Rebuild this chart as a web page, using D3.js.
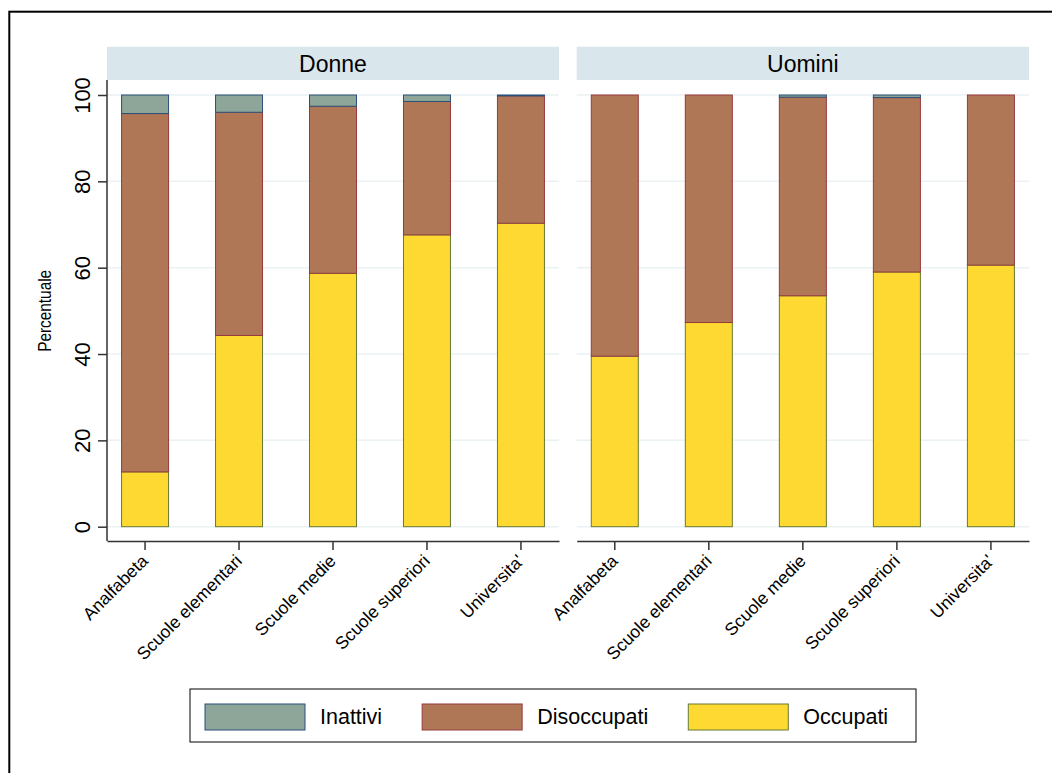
<!DOCTYPE html>
<html>
<head>
<meta charset="utf-8">
<script src="https://cdn.jsdelivr.net/npm/d3@7"></script>
<style>
  html, body { margin: 0; padding: 0; background: #ffffff; }
  svg { display: block; }
  text { font-family: "Liberation Sans", Arial, sans-serif; fill: #000; }
</style>
</head>
<body>
<svg id="chart" width="1052" height="773"></svg>
<script>
// ---- data ----
const categories = ["Analfabeta", "Scuole elementari", "Scuole medie", "Scuole superiori", "Universita'"];
const panels = ["Donne", "Uomini"];
const seriesNames = ["Occupati", "Disoccupati", "Inattivi"]; // stacking order bottom -> top
const legendOrder = ["Inattivi", "Disoccupati", "Occupati"];

const occupatiDonne    = [12.7, 44.3, 58.7, 67.6, 70.3];
const disoccupatiDonne = [83.0, 51.7, 38.7, 30.9, 29.5];
const inattiviDonne    = [4.3, 4.0, 2.6, 1.5, 0.2];

const occupatiUomini    = [39.5, 47.3, 53.5, 59.0, 60.6];
const disoccupatiUomini = [60.5, 52.7, 46.0, 40.4, 39.4];
const inattiviUomini    = [0.0, 0.0, 0.5, 0.6, 0.0];

const yTicks = [0, 20, 40, 60, 80, 100];

// ---- styles ----
const fills   = { Inattivi: "#8da699", Disoccupati: "#b07757", Occupati: "#fdd931" };
const strokes = { Inattivi: "#2a4f78", Disoccupati: "#953a3e", Occupati: "#667a35" };

const svg = d3.select("#chart");

// outer frame
svg.append("rect").attr("x", 9.3).attr("y", 11.7).attr("width", 1200).attr("height", 900)
  .attr("fill", "none").attr("stroke", "#000").attr("stroke-width", 2);

const panelData = {
  Donne:  { Occupati: occupatiDonne,  Disoccupati: disoccupatiDonne,  Inattivi: inattiviDonne },
  Uomini: { Occupati: occupatiUomini, Disoccupati: disoccupatiUomini, Inattivi: inattiviUomini }
};

const panelX = { Donne: [107, 559], Uomini: [576.7, 1029] };
const stripTop = 46.7, stripBottom = 80, axisY = 541;

const y = d3.scaleLinear().domain([0, 100]).range([526.7, 95]);

panels.forEach(p => {
  const [x0, x1] = panelX[p];
  const x = d3.scaleBand().domain(categories).range([x0, x1]).paddingInner(0.5).paddingOuter(0.155);

  // strip
  svg.append("rect").attr("x", x0).attr("y", stripTop).attr("width", x1 - x0)
    .attr("height", stripBottom - stripTop).attr("fill", "#d9e6ec");
  svg.append("text").attr("x", (x0 + x1) / 2).attr("y", (stripTop + stripBottom) / 2 + 1)
    .attr("text-anchor", "middle").attr("dominant-baseline", "central")
    .style("font-size", "23px").text(p);

  // gridlines
  svg.append("g").selectAll("line").data(yTicks).join("line")
    .attr("x1", x0).attr("x2", x1)
    .attr("y1", d => y(d)).attr("y2", d => y(d))
    .attr("stroke", "#eaf2f3").attr("stroke-width", 1.5);

  // stacked bars
  const rows = categories.map((c, i) => {
    const r = { cat: c };
    seriesNames.forEach(s => r[s] = panelData[p][s][i]);
    return r;
  });
  const stacked = d3.stack().keys(seriesNames)(rows);
  svg.append("g").selectAll("g").data(stacked).join("g")
    .attr("fill", d => fills[d.key]).attr("stroke", d => strokes[d.key]).attr("stroke-width", 1)
    .selectAll("rect").data(d => d.filter(v => v[1] - v[0] > 0)).join("rect")
    .attr("x", d => x(d.data.cat))
    .attr("width", x.bandwidth())
    .attr("y", d => y(d[1]))
    .attr("height", d => y(d[0]) - y(d[1]));

  // x axis
  const xAxis = d3.axisBottom(x).tickSizeInner(9).tickSizeOuter(0).tickPadding(0);
  const gx = svg.append("g").attr("transform", `translate(0,${axisY})`).call(xAxis);
  gx.select(".domain").attr("stroke", "#333").attr("stroke-width", 1.5);
  gx.selectAll(".tick line").attr("stroke", "#333").attr("stroke-width", 1.5);
  gx.selectAll(".tick text")
    .attr("y", 0).attr("dy", null)
    .attr("text-anchor", "end")
    .attr("transform", "translate(4,21) rotate(-45)")
    .style("font-size", "17.5px").style("font-family", "Liberation Sans, Arial, sans-serif")
    .attr("fill", "#000");

  // y axis (left panel only)
  if (p === "Donne") {
    svg.append("line").attr("x1", x0).attr("x2", x0).attr("y1", stripBottom).attr("y2", axisY)
      .attr("stroke", "#333").attr("stroke-width", 1.5);
    const yAxis = d3.axisLeft(y).tickValues(yTicks).tickSizeInner(9).tickSizeOuter(0);
    const gy = svg.append("g").attr("transform", `translate(${x0},0)`).call(yAxis);
    gy.select(".domain").remove();
    gy.selectAll(".tick line").attr("stroke", "#333").attr("stroke-width", 1.5);
    gy.selectAll(".tick text")
      .attr("x", null).attr("dy", null)
      .attr("text-anchor", "middle")
      .attr("transform", "translate(-17,0) rotate(-90)")
      .style("font-size", "22px").style("font-family", "Liberation Sans, Arial, sans-serif")
      .attr("fill", "#000");
    svg.append("text")
      .attr("transform", `translate(51,${(y(0) + y(100)) / 2}) rotate(-90)`)
      .attr("text-anchor", "middle").style("font-size", "17.5px")
      .attr("textLength", 82).attr("lengthAdjust", "spacingAndGlyphs")
      .text("Percentuale");
  }
});

// legend
const lg = svg.append("g");
lg.append("rect").attr("x", 190).attr("y", 689).attr("width", 726).attr("height", 53)
  .attr("fill", "#fff").attr("stroke", "#000").attr("stroke-width", 1);
let cursor = 205;
legendOrder.forEach(name => {
  const g = lg.append("g").attr("transform", `translate(${cursor},704)`);
  g.append("rect").attr("width", 100).attr("height", 26)
    .attr("fill", fills[name]).attr("stroke", strokes[name]).attr("stroke-width", 1);
  const t = g.append("text").attr("x", 115).attr("y", 13).attr("dominant-baseline", "central")
    .style("font-size", "21.5px").text(name);
  cursor += 115 + t.node().getComputedTextLength() + 40;
});
</script>
</body>
</html>
